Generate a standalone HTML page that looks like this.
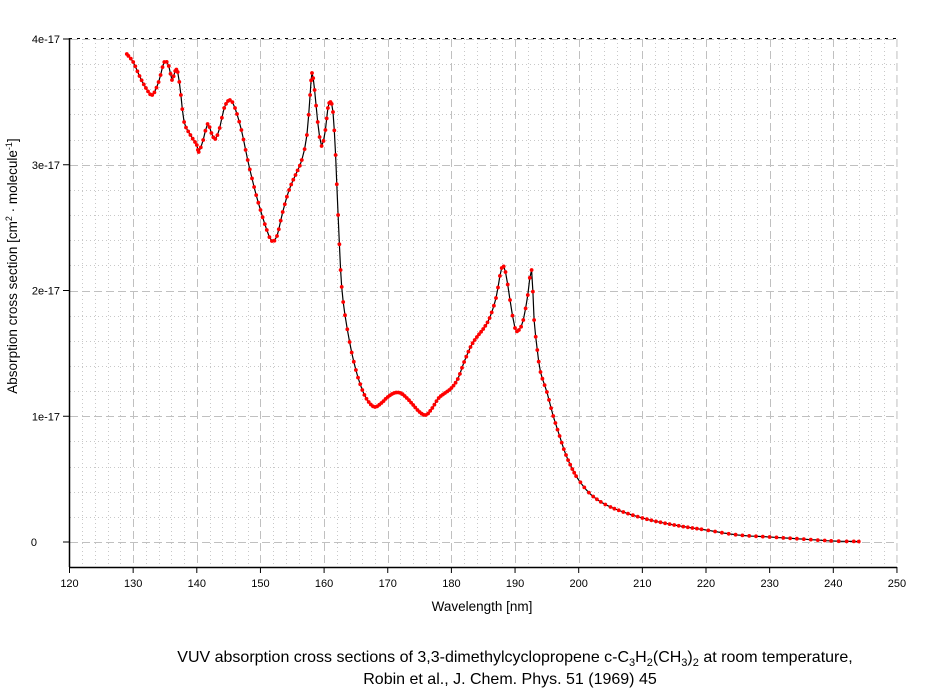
<!DOCTYPE html>
<html><head><meta charset="utf-8"><style>
html,body{margin:0;padding:0;background:#fff;}
svg text{font-family:"Liberation Sans",Arial,sans-serif;}
</style></head><body>
<svg id="s" width="934" height="689" xmlns="http://www.w3.org/2000/svg">
<rect width="934" height="689" fill="#fff"/>
<g id="grid"></g>
<line x1="69.5" y1="38" x2="69.5" y2="567" stroke="#000" stroke-width="1.5"/>
<line x1="69" y1="567.5" x2="897" y2="567.5" stroke="#000" stroke-width="1.5"/>
<line x1="69" y1="38.5" x2="897" y2="38.5" stroke="#000" stroke-dasharray="3,5"/>
<g id="ticks" font-size="11"></g>
<path id="curve" fill="none" stroke="#000" stroke-width="1.2"/>
<g id="dots" fill="#f00"></g>
<text x="482" y="611" font-size="13.5" text-anchor="middle">Wavelength [nm]</text>
<text transform="translate(17,266) rotate(-90)" font-size="13.5" text-anchor="middle">Absorption cross section [cm<tspan font-size="9" dy="-5">2</tspan><tspan dy="5"> · molecule</tspan><tspan font-size="9" dy="-5">-1</tspan><tspan dy="5">]</tspan></text>
<text x="515" y="662" font-size="16" text-anchor="middle">VUV absorption cross sections of 3,3-dimethylcyclopropene c-C<tspan font-size="11" dy="4">3</tspan><tspan dy="-4">H</tspan><tspan font-size="11" dy="4">2</tspan><tspan dy="-4">(CH</tspan><tspan font-size="11" dy="4">3</tspan><tspan dy="-4">)</tspan><tspan font-size="11" dy="4">2</tspan><tspan dy="-4"> at room temperature,</tspan></text>
<text x="510" y="684" font-size="16" text-anchor="middle">Robin et al., J. Chem. Phys. 51 (1969) 45</text>
</svg>
<script>
var NS="http://www.w3.org/2000/svg";
function X(nm){return 69.5+(nm-120)*6.365;}
function el(p,t,a,txt){var e=document.createElementNS(NS,t);for(var k in a)e.setAttribute(k,a[k]);if(txt!=null)e.textContent=txt;document.getElementById(p).appendChild(e);return e;}
for(var nm=122;nm<250;nm+=2){var x=Math.round(X(nm))+0.5;var major=(nm%10==0);
 el("grid","line",{x1:x,y1:39,x2:x,y2:567,stroke:major?"#c0c0c0":"#c8c8c8","stroke-dasharray":major?"8,4":"1,3","stroke-width":1});}
x=X(250);el("grid","line",{x1:x,y1:39,x2:x,y2:567,stroke:"#c0c0c0","stroke-dasharray":"8,4"});
for(var i=-1;i<=20;i++){var y=Math.round(542-i*25.15)+0.5;if(y<39)continue;var major=(i%5==0);
 el("grid","line",{x1:70,y1:y,x2:897,y2:y,stroke:major?"#c0c0c0":"#c8c8c8","stroke-dasharray":major?"8,4":"1,3"});}
for(var nm=120;nm<=250;nm+=10){var x=X(nm);el("ticks","line",{x1:x,y1:567,x2:x,y2:573,stroke:"#000"});el("ticks","text",{x:x,y:587,"text-anchor":"middle"},String(nm));}
var yl=["0","1e-17","2e-17","3e-17","4e-17"];
for(var i=0;i<5;i++){var y=542-i*125.75;el("ticks","line",{x1:63,y1:y,x2:69,y2:y,stroke:"#000"});el("ticks","text",{x:i==0?37:60,y:y+4,"text-anchor":"end"},yl[i]);}
var d=[[129,54],[130,62],[131,76],[132,88],[133,95],[134,82],[134.9,62],[135.6,66],[136.1,80],[136.6,71],[137.0,72],[137.5,95],[138,122],[139,135],[140,145],[140.3,152],[141,140],[141.7,124],[142.3,133],[142.9,139],[143.6,128],[144.3,108],[145.2,100],[146,108],[147,130],[148,160],[149,187],[150,210],[151,230],[151.8,241],[152.6,236],[153.5,212],[154.5,190],[155.5,175],[156.5,160],[157.3,135],[157.8,95],[158.1,73],[158.5,90],[159,122],[159.6,146],[160.2,130],[160.6,108],[161.0,102],[161.4,112],[161.8,155],[162.2,215],[162.6,270],[163,302],[164,342],[165,370],[166,390],[167,402],[168,407],[169,403],[170,397],[171,393],[172,393],[173,398],[174,405],[175,412],[176,415],[177,408],[178,398],[179,393],[180,388],[181,379],[182,362],[183,347],[184,337],[185,329],[186,318],[187,298],[187.9,268],[188.5,272],[189.2,300],[190,328],[190.6,330],[191.3,320],[192,295],[192.6,270],[193,320],[193.5,350],[194,372],[195,392],[196,416],[197,436],[198,455],[199,469],[200,480],[202,495],[205,507],[210,518],[215,525],[220,530],[225,535],[230,537],[235,539],[240,541],[244,541.5]];
var pts=[];
for(var i=0;i<d.length-1;i++){var p0=d[Math.max(0,i-1)],p1=d[i],p2=d[i+1],p3=d[Math.min(d.length-1,i+2)];
 var n=Math.max(2,Math.round((p2[0]-p1[0])/0.35));
 for(var k=0;k<n;k++){var t=k/n,t2=t*t,t3=t2*t;
  function cr(a,b,c,e){return 0.5*((2*b)+(-a+c)*t+(2*a-5*b+4*c-e)*t2+(-a+3*b-3*c+e)*t3);}
  pts.push([cr(p0[0],p1[0],p2[0],p3[0]),cr(p0[1],p1[1],p2[1],p3[1])]);}}
pts.push(d[d.length-1]);
var s="";for(var i=0;i<pts.length;i++){s+=(i?"L":"M")+X(pts[i][0]).toFixed(1)+","+pts[i][1].toFixed(1);}
document.getElementById("curve").setAttribute("d",s);
for(var i=0;i<pts.length;i++){var nm=pts[i][0];var st=nm<200?1:(nm<220?2:3);
 if(i%st==0) el("dots","circle",{cx:X(nm).toFixed(1),cy:pts[i][1].toFixed(1),r:1.9});}
</script>
</body></html>
